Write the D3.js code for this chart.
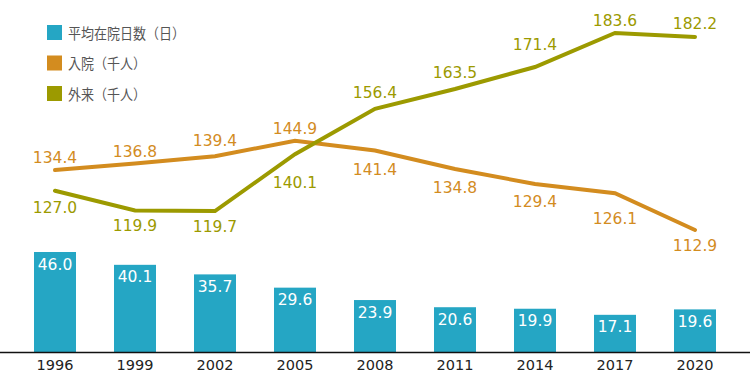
<!DOCTYPE html>
<html><head><meta charset="utf-8">
<script src="https://cdn.jsdelivr.net/npm/d3@7/dist/d3.min.js"></script>
<style>
html,body{margin:0;padding:0;background:#fff;}
svg{display:block;}
</style></head>
<body>
<svg id="c" width="750" height="373"></svg>
<script>
const years = ["1996","1999","2002","2005","2008","2011","2014","2017","2020"];
const stayDays = [46.0,40.1,35.7,29.6,23.9,20.6,19.9,17.1,19.6];
const inpatient = [134.4,136.8,139.4,144.9,141.4,134.8,129.4,126.1,112.9];
const outpatient = [127.0,119.9,119.7,140.1,156.4,163.5,171.4,183.6,182.2];
const legendLabels = ["平均在院日数（日）","入院（千人）","外来（千人）"];

// label placement (baseline offset from point, px)
const inLabelDy  = [-7.5,-6.5,-10,-7,24.5,24,23,31,21];
const outLabelDy = [22.5,21,21,34,-10.5,-11.5,-17,-7,-8];

const C_BAR = "#25a6c4", C_IN = "#d38c1f", C_OUT = "#9c9a00";
const NUMF = "'DejaVu Sans', sans-serif";
const CJKF = "'Noto Sans CJK JP', sans-serif";

const svg = d3.select("#c");
const x = d3.scaleBand().domain(years).range([15,735]).paddingInner(0.475).paddingOuter(0.2375);
const yBar = d3.scaleLinear().domain([0,46]).range([352,252]);
const yLine = d3.scaleLinear().domain([112.9,183.6]).range([230,33]);
const cx = d => x(d) + x.bandwidth()/2;

// bars
const bars = svg.append("g");
bars.selectAll("rect").data(stayDays).join("rect")
  .attr("x",(d,i)=>x(years[i])).attr("width",x.bandwidth())
  .attr("y",d=>yBar(d)).attr("height",d=>yBar(0)-yBar(d))
  .attr("fill",C_BAR);
bars.selectAll("text").data(stayDays).join("text")
  .attr("x",(d,i)=>cx(years[i])).attr("y",d=>yBar(d)+17.5)
  .attr("text-anchor","middle").attr("fill","#fff")
  .attr("font-family",NUMF).attr("font-size","15.5px")
  .text(d=>d.toFixed(1));

// baseline
svg.append("line").attr("x1",0).attr("x2",750).attr("y1",352.5).attr("y2",352.5)
  .attr("stroke","#111").attr("stroke-width",1.5);

// axis
const ax = svg.append("g").attr("transform","translate(0,352)")
  .call(d3.axisBottom(x).tickSize(0).tickPadding(7.5));
ax.select(".domain").remove();
ax.selectAll("text").attr("font-family",NUMF).attr("font-size","14.5px").attr("fill","#222");

// lines
function drawLine(vals,color){
  const line = d3.line().x((d,i)=>cx(years[i])).y(d=>yLine(d));
  svg.append("path").datum(vals).attr("d",line)
    .attr("fill","none").attr("stroke",color).attr("stroke-width",4)
    .attr("stroke-linejoin","miter").attr("stroke-linecap","round");
}
function drawLabels(vals,color,dys){
  svg.append("g").selectAll("text").data(vals).join("text")
    .attr("x",(d,i)=>cx(years[i])).attr("y",(d,i)=>yLine(d)+dys[i])
    .attr("text-anchor","middle").attr("fill",color)
    .attr("font-family",NUMF).attr("font-size","15.5px")
    .text(d=>d.toFixed(1));
}
drawLine(inpatient,C_IN);
drawLine(outpatient,C_OUT);
drawLabels(inpatient,C_IN,inLabelDy);
drawLabels(outpatient,C_OUT,outLabelDy);

// legend
const legColors = [C_BAR,C_IN,C_OUT];
const lg = svg.append("g");
legendLabels.forEach((t,i)=>{
  const y0 = 25 + i*30.5;
  lg.append("rect").attr("x",47).attr("y",y0).attr("width",15).attr("height",15).attr("fill",legColors[i]);
  lg.append("text").attr("transform",`translate(68,${y0+13.5}) scale(1,1.1)`)
    .attr("font-family",CJKF).attr("font-size","13px").attr("fill","#555").text(t);
});
</script>
</body></html>
